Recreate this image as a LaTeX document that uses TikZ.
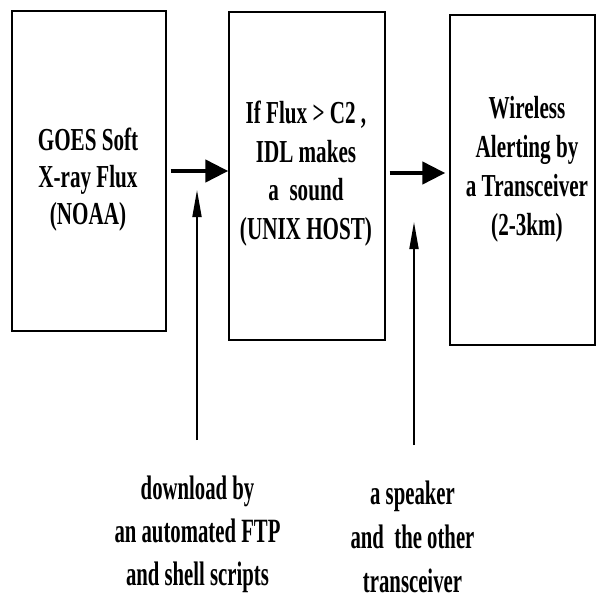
\documentclass[tikz,border=0pt]{standalone}
\usepackage{fontspec}
\setmainfont{Liberation Serif}
\newfontfamily\stagefont{Liberation Serif}[FakeStretch=0.66]
\newfontfamily\notefont{Liberation Serif}[FakeStretch=0.61]
\usetikzlibrary{arrows.meta,calc}
\begin{document}
\begin{tikzpicture}[x=1pt,y=-1pt,
  stage/.style={draw, line width=1.4pt, inner sep=0pt},
  boxtext/.style={font=\stagefont\fontsize{32pt}{#1}\selectfont\bfseries, align=center, inner sep=0pt},
  notetext/.style={font=\notefont\fontsize{34pt}{#1}\selectfont\bfseries, align=center, inner sep=0pt},
  flow/.style={line width=4.5pt, -{Triangle[length=23pt,width=22pt]}},
  feed/.style={line width=1.8pt, -{Triangle[length=27pt,width=9pt]}}]
\useasboundingbox (0,0) rectangle (596,602);

% the three stages
\node[stage, minimum width=154pt, minimum height=320pt] (src)   at (89,171)    {};
\node[stage, minimum width=156pt, minimum height=328pt] (alarm) at (307,176)   {};
\node[stage, minimum width=145pt, minimum height=330pt] (radio) at (522.5,180) {};

\node[boxtext=37pt]   (srctext)   at (88,180)   {GOES Soft\\X-ray Flux\\(NOAA)};
\node[boxtext=38.5pt] (alarmtext) at (306,173.4) {If Flux > C2 ,\\IDL makes\\a\ \ sound\\(UNIX HOST)};
\node[boxtext=39pt]   (radiotext) at (527,169.4) {Wireless\\Alerting by\\a Transceiver\\(2-3km)};

% data flow between the stages
\draw[flow] ($(src.east)+(4,0)$) -- (src.east -| alarm.west);
\draw[flow] ($(alarm.east)+(4,-3)$) -- ($(radio.west)+(-4,-7)$);

% means used at each step
\node[notetext=43pt] (dlnote)  at (197.5,534) {download by\\an automated FTP\\and shell scripts};
\node[notetext=44pt] (spknote) at (412.5,537) {a speaker\\and\ \ the other\\transceiver};

\coordinate (dlfoot)  at (197,440);
\coordinate (dltip)   at (197,190);
\coordinate (spkfoot) at (414,445);
\coordinate (spktip)  at (414,222);
\draw[feed] (dlfoot) -- (dltip);
\draw[feed] (spkfoot) -- (spktip);
\end{tikzpicture}
\end{document}
